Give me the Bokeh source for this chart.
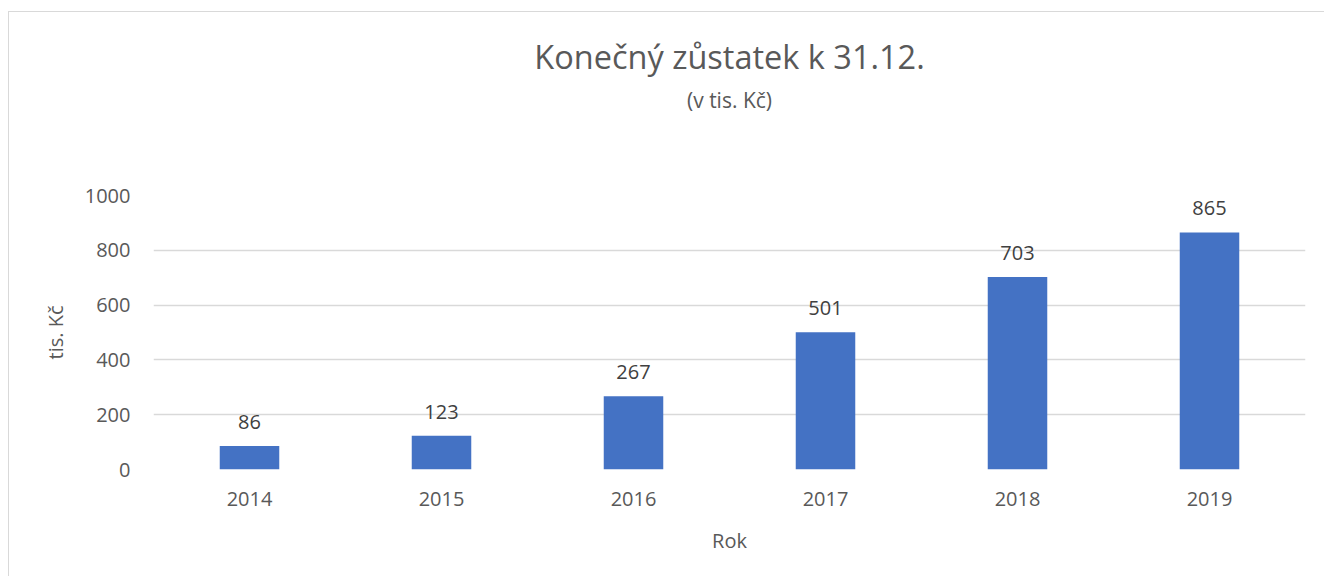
from bokeh.plotting import figure
from bokeh.models import ColumnDataSource, Range1d, FixedTicker, Title
from bokeh.core.properties import value
from bokeh.embed import file_html
from bokeh.resources import INLINE

years = ["2014", "2015", "2016", "2017", "2018", "2019"]
balances = [86, 123, 267, 501, 703, 865]
y_ticks = [0, 200, 400, 600, 800, 1000]
title_text = "Konečný zůstatek k 31.12."
subtitle_text = "(v tis. Kč)"
x_label = "Rok"
y_label = "tis. Kč"

FONT = "Open Sans"
TXT = "#595959"

src = ColumnDataSource(dict(year=years, val=balances, lab=[str(v) for v in balances]))

p = figure(x_range=years, y_range=Range1d(0, 1000), width=1316, height=565,
           output_backend="svg", toolbar_location=None,
           min_border_left=144, min_border_right=20, min_border_top=183, min_border_bottom=108)
p.styles = {"border-top": "1px solid #d9d9d9", "border-left": "1px solid #d9d9d9",
            "margin-top": "11px", "margin-left": "8px"}

p.vbar(x="year", top="val", width=0.31, source=src, fill_color="#4472C4", line_color=None)
p.text(x="year", y="val", text="lab", source=src, text_align="center", text_baseline="middle",
       y_offset=-24, text_font=value(FONT), text_font_size="20px", text_color="#404040")

p.outline_line_color = None
p.xgrid.grid_line_color = None
p.ygrid.grid_line_color = "#d9d9d9"
p.ygrid.grid_line_width = 1.5
p.yaxis.ticker = FixedTicker(ticks=y_ticks)

for ax in (p.xaxis[0], p.yaxis[0]):
    ax.axis_line_color = None
    ax.major_tick_line_color = None
    ax.minor_tick_line_color = None
    ax.major_label_text_font = FONT
    ax.major_label_text_font_size = "20px"
    ax.major_label_text_color = TXT
    ax.axis_label_text_font = FONT
    ax.axis_label_text_font_size = "20px"
    ax.axis_label_text_color = TXT
    ax.axis_label_text_font_style = "normal"

p.xaxis.axis_label = x_label
p.yaxis.axis_label = y_label
p.xaxis.major_label_standoff = 16
p.xaxis.axis_label_standoff = 18
p.yaxis.major_label_standoff = 17
p.yaxis.axis_label_standoff = 13

# spacer between plot area and subtitle
p.add_layout(Title(text=" ", text_font_size="1px", standoff=73), "above")
p.add_layout(Title(text=subtitle_text, align="center", text_font=FONT, text_font_size="21px",
                   text_color=TXT, text_font_style="normal", standoff=11), "above")
p.add_layout(Title(text=title_text, align="center", text_font=FONT, text_font_size="32.5px",
                   text_color=TXT, text_font_style="normal", standoff=0), "above")

p.background_fill_color = "white"
p.border_fill_color = "white"

open("out.html", "w").write(file_html(p, INLINE))
